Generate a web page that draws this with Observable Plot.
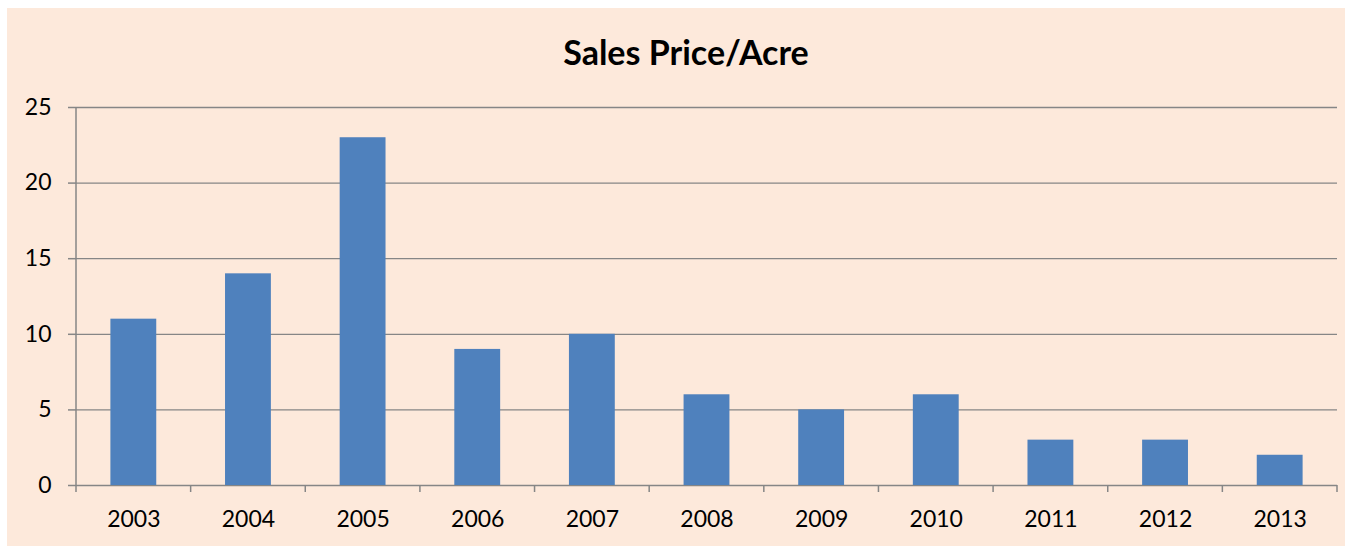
<!DOCTYPE html>
<html>
<head>
<meta charset="utf-8">
<script src="https://cdn.jsdelivr.net/npm/d3@7"></script>
<script src="https://cdn.jsdelivr.net/npm/@observablehq/plot@0.6"></script>
<style>
  html, body { margin: 0; padding: 0; background: #ffffff; }
  #chart {
    position: absolute; left: 7px; top: 8px; width: 1338px; height: 538px;
    background: #FDE9DB; font-family: Lato, "Open Sans", sans-serif;
  }
  #title {
    position: absolute; left: 0; top: 24px; width: 1358px; text-align: center;
    font-size: 34px; font-weight: bold; color: #000; line-height: 40px;
  }
  #plot { position: absolute; left: 0; top: 74px; }
</style>
</head>
<body>
<div id="chart">
  <div id="title">Sales Price/Acre</div>
  <div id="plot"></div>
</div>
<script>
const years = ["2003","2004","2005","2006","2007","2008","2009","2010","2011","2012","2013"];
const prices = [11, 14, 23, 9, 10, 6, 5, 6, 3, 3, 2];
const yTicks = [0, 5, 10, 15, 20, 25];

const data = years.map((y, i) => ({year: y, price: prices[i]}));
const grey = "#868686";

function boundaryTicks(index, scales, values, dims) {
  const x = scales.x;
  const step = x.step(), bw = x.bandwidth();
  const y0 = scales.y(0);
  const g = d3.create("svg:g");
  const xs = years.map(d => x(d) + bw / 2 - step / 2);
  xs.push(x(years[years.length - 1]) + bw / 2 + step / 2);
  for (const px of xs) {
    g.append("line").attr("x1", px).attr("x2", px)
      .attr("y1", y0).attr("y2", y0 + 7)
      .attr("stroke", grey).attr("stroke-width", 1.5);
  }
  return g.node();
}

function leftAxisLine(index, scales) {
  const px = scales.x(years[0]) + scales.x.bandwidth() / 2 - scales.x.step() / 2;
  return d3.create("svg:line").attr("x1", px).attr("x2", px)
    .attr("y1", scales.y(25)).attr("y2", scales.y(0))
    .attr("stroke", grey).attr("stroke-width", 1.5).node();
}

const chart = Plot.plot({
  width: 1338,
  height: 464,
  marginLeft: 69,
  marginRight: 8,
  marginTop: 25,
  marginBottom: 61,
  style: {background: "transparent", fontFamily: "Lato, 'Open Sans', sans-serif", fontSize: "23px", color: "#000"},
  x: {domain: years, paddingInner: 0.6, paddingOuter: 0.3, round: false, label: null},
  y: {domain: [0, 25], ticks: yTicks, label: null},
  marks: [
    Plot.ruleY(yTicks, {y: d => d, stroke: grey, strokeWidth: 1.3, strokeOpacity: 1}),
    leftAxisLine,
    Plot.barY(data, {x: "year", y: "price", fill: "#4F81BD"}),
    boundaryTicks,
    Plot.axisY({ticks: yTicks, tickSize: 8, tickPadding: 17, stroke: grey, strokeWidth: 1.5, fill: "#000", fontSize: 23, tickFormat: d => d}),
    Plot.axisX({tickSize: 0, tickPadding: 25, fill: "#000", fontSize: 23})
  ]
});
document.getElementById("plot").appendChild(chart);
</script>
</body>
</html>
